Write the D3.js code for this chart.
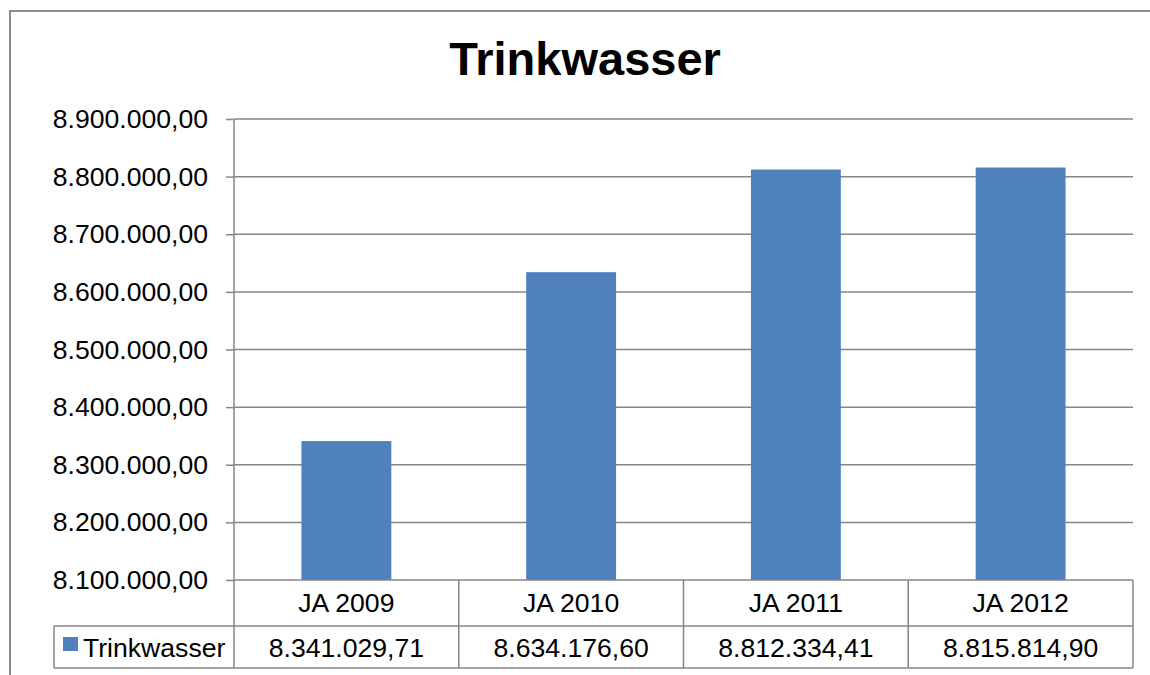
<!DOCTYPE html>
<html>
<head>
<meta charset="utf-8">
<script src="https://cdn.jsdelivr.net/npm/d3@7"></script>
<style>
  body { margin: 0; background: #fff; }
  svg text { font-family: "Liberation Sans", Arial, sans-serif; fill: #000; }
</style>
</head>
<body>
<svg id="chart" width="1150" height="675"></svg>
<script>
// chart data
const categories = ["JA 2009", "JA 2010", "JA 2011", "JA 2012"];
const values = [8341029.71, 8634176.60, 8812334.41, 8815814.90];
const seriesName = "Trinkwasser";
const yTicks = [8100000, 8200000, 8300000, 8400000, 8500000, 8600000, 8700000, 8800000, 8900000];

const svg = d3.select("#chart");
const gridColor = "#868686";
const barColor = "#4F81BD";
const fs = 26.6; // body text size

// plot area (window.top is taken, so plot* names)
const plotLeft = 234, plotRight = 1133, plotTop = 119, plotBottom = 580;
const rowH1 = 46, rowH2 = 42; // data table rows

// German number format
const de = d3.formatLocale({ decimal: ",", thousands: ".", grouping: [3], currency: ["", " €"] });
const fmt = de.format(",.2f");

const x = d3.scaleBand()
  .domain(categories)
  .range([plotLeft, plotRight])
  .paddingInner(0.6)
  .paddingOuter(0.3);

const y = d3.scaleLinear()
  .domain([8100000, 8900000])
  .range([plotBottom, plotTop]);

// outer chart frame (runs past the window edge)
svg.append("rect")
  .attr("x", 10).attr("y", 11)
  .attr("width", 1160).attr("height", 700)
  .attr("fill", "none")
  .attr("stroke", "#8c8c8c")
  .attr("stroke-width", 2);

// title
svg.append("text")
  .attr("x", 585).attr("y", 75)
  .attr("text-anchor", "middle")
  .attr("font-size", 47)
  .attr("font-weight", "bold")
  .text("Trinkwasser");

// y axis labels + ticks
const yAxis = d3.axisLeft(y)
  .tickValues(yTicks)
  .tickSize(8)
  .tickPadding(18)
  .tickFormat(d => fmt(d));

const gy = svg.append("g")
  .attr("transform", `translate(${plotLeft},0)`)
  .call(yAxis);
gy.select(".domain").remove();
gy.selectAll(".tick line").attr("stroke", gridColor).attr("stroke-width", 1.5);
gy.selectAll(".tick text").attr("font-size", fs).attr("fill", "#000")
  .attr("font-family", "Liberation Sans, Arial, sans-serif");

// gridlines
svg.append("g")
  .selectAll("line")
  .data(yTicks.filter(d => d !== 8100000))
  .join("line")
  .attr("x1", plotLeft).attr("x2", plotRight)
  .attr("y1", d => y(d)).attr("y2", d => y(d))
  .attr("stroke", gridColor)
  .attr("stroke-width", 1.5);

// bars
svg.append("g")
  .selectAll("rect")
  .data(values)
  .join("rect")
  .attr("x", (d, i) => x(categories[i]))
  .attr("y", d => y(d))
  .attr("width", x.bandwidth())
  .attr("height", d => y(8100000) - y(d))
  .attr("fill", barColor);

// vertical axis line
svg.append("line")
  .attr("x1", plotLeft).attr("x2", plotLeft)
  .attr("y1", plotTop).attr("y2", plotBottom + rowH1 + rowH2)
  .attr("stroke", gridColor).attr("stroke-width", 1.5);

// data table
const table = svg.append("g");
const lineStyle = sel => sel.attr("stroke", gridColor).attr("stroke-width", 1.5);

// horizontal lines
table.append("line").attr("x1", plotLeft).attr("x2", plotRight)
  .attr("y1", plotBottom).attr("y2", plotBottom).call(lineStyle);
table.append("line").attr("x1", 54).attr("x2", plotRight)
  .attr("y1", plotBottom + rowH1).attr("y2", plotBottom + rowH1).call(lineStyle);
table.append("line").attr("x1", 54).attr("x2", plotRight)
  .attr("y1", plotBottom + rowH1 + rowH2).attr("y2", plotBottom + rowH1 + rowH2).call(lineStyle);
// legend cell left border
table.append("line").attr("x1", 54).attr("x2", 54)
  .attr("y1", plotBottom + rowH1).attr("y2", plotBottom + rowH1 + rowH2).call(lineStyle);

// category separators
const step = x.step();
table.selectAll("line.sep")
  .data(d3.range(1, categories.length + 1))
  .join("line")
  .attr("class", "sep")
  .attr("x1", i => plotLeft + i * step).attr("x2", i => plotLeft + i * step)
  .attr("y1", plotBottom).attr("y2", plotBottom + rowH1 + rowH2)
  .call(lineStyle);

// category labels
table.selectAll("text.cat")
  .data(categories)
  .join("text")
  .attr("class", "cat")
  .attr("x", d => x(d) + x.bandwidth() / 2)
  .attr("y", plotBottom + 32)
  .attr("text-anchor", "middle")
  .attr("font-size", fs)
  .text(d => d);

// values
table.selectAll("text.val")
  .data(values)
  .join("text")
  .attr("class", "val")
  .attr("x", (d, i) => x(categories[i]) + x.bandwidth() / 2)
  .attr("y", plotBottom + rowH1 + 31)
  .attr("text-anchor", "middle")
  .attr("font-size", fs)
  .text(d => fmt(d));

// legend key
table.append("rect")
  .attr("x", 63).attr("y", plotBottom + rowH1 + 11)
  .attr("width", 15).attr("height", 14)
  .attr("fill", barColor);
table.append("text")
  .attr("x", 83).attr("y", plotBottom + rowH1 + 31)
  .attr("font-size", fs)
  .text(seriesName);
</script>
</body>
</html>
